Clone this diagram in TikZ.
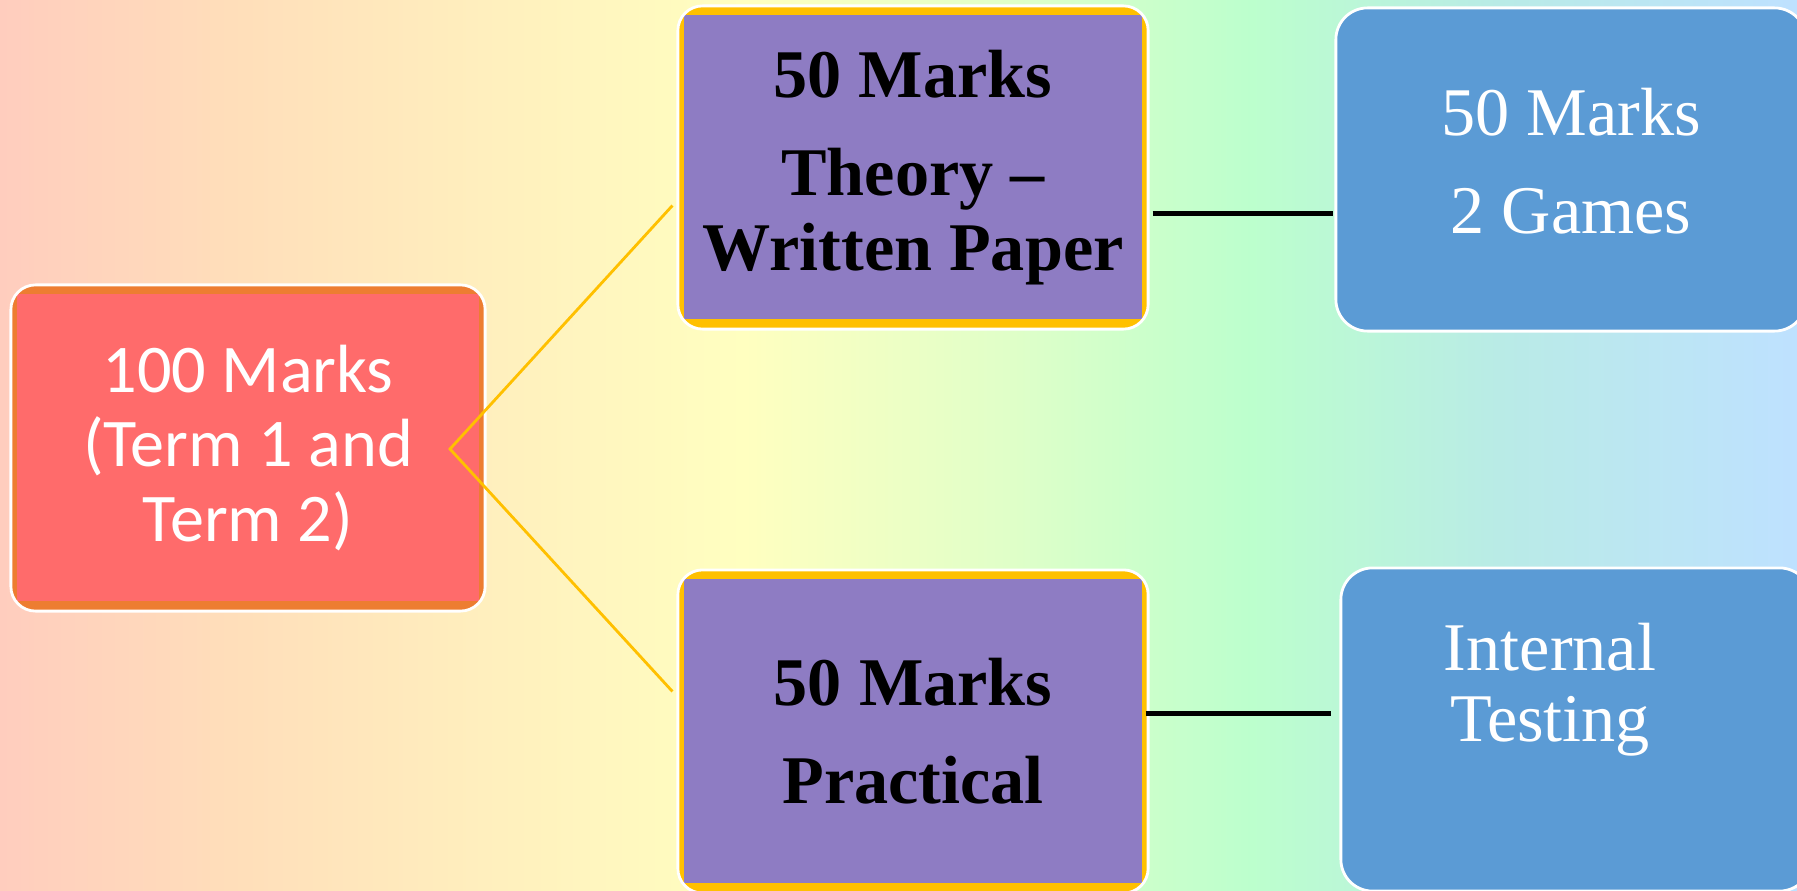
\documentclass[tikz,border=0pt]{standalone}
\usepackage{fontspec}
\setmainfont{Liberation Serif}
\newfontfamily\bodyfont{Carlito}
\usepackage{tikz}
\usetikzlibrary{calc}
\definecolor{BoxRed}{RGB}{255,107,107}
\definecolor{BoxOrange}{RGB}{237,125,49}
\definecolor{BoxPurple}{RGB}{142,124,195}
\definecolor{BoxGold}{RGB}{255,192,0}
\definecolor{BoxBlue}{RGB}{91,155,213}
\definecolor{BgPeach}{RGB}{255,205,190}
\definecolor{BgApricot}{RGB}{255,222,186}
\definecolor{BgCream}{RGB}{255,240,190}
\definecolor{BgLemon}{RGB}{255,255,192}
\definecolor{BgLime}{RGB}{225,255,200}
\definecolor{BgMint}{RGB}{188,255,205}
\definecolor{BgAqua}{RGB}{185,235,230}
\definecolor{BgSky}{RGB}{190,225,255}
\pgfdeclarehorizontalshading{pastel}{100bp}{color(0bp)=(BgPeach); color(25bp)=(BgPeach);
  color(31.4bp)=(BgApricot); color(38.9bp)=(BgCream); color(45.7bp)=(BgLemon);
  color(52.8bp)=(BgLime); color(59.8bp)=(BgMint); color(66.7bp)=(BgAqua);
  color(75bp)=(BgSky); color(100bp)=(BgSky)}
\newcommand\sansbig{\bodyfont\fontsize{19.4}{21.3}\selectfont}
\newcommand\serifbig{\fontsize{19.4}{21.3}\selectfont}

\begin{document}
\begin{tikzpicture}[x=0.01cm, y=-0.01cm,
    box/.style={draw=white, line width=0.8pt, rounded corners=7pt, inner sep=0pt,
                align=center, minimum width=4.7cm, minimum height=3.23cm},
    twotone/.style 2 args={box, fill=#1, path picture={
        \fill[#2, sharp corners] ($(path picture bounding box.north west)+(6,9)$) rectangle
                  ($(path picture bounding box.south east)+(-6,-10)$);}},
    redbox/.style={twotone={BoxOrange}{BoxRed}, text=white, font=\sansbig,
                   minimum width=4.74cm, minimum height=3.26cm},
    purplebox/.style={twotone={BoxGold}{BoxPurple}, font=\bfseries\serifbig},
    bluebox/.style={box, fill=BoxBlue, rounded corners=9pt},
    bluetext/.style={text=white, font=\serifbig, align=center, inner sep=0pt},
    fork/.style={draw=BoxGold, line width=0.8pt},
    link/.style={draw=black, line width=1.3pt}
  ]
  \useasboundingbox (0,0) rectangle (1797,891);
  \shade[shading=pastel] (0,0) rectangle (1797,891);

  \node[redbox]    (total)     at (248,448)   {100 Marks\\(Term 1 and\\Term 2)};
  \node[purplebox] (theory)    at (913,167.5) {50 Marks\\[6.6pt]Theory –\\Written Paper};
  \node[purplebox] (practical) at (913,731.5) {50 Marks\\[6.6pt]Practical};
  \node[bluebox]   (games)     at (1571,169.5) {};
  \node[bluebox]   (testing)   at (1576,729.5) {};
  \node[bluetext]  (gamestext) at (1571,161) {50 Marks\\[6.6pt]2 Games};
  \node[bluetext, font=\fontsize{19.4}{20.2}\selectfont] (testtext) at (1550,690)
        {Internal\\Testing};

  % connectors
  \coordinate (split) at (450,449);
  \draw[fork] ($(theory.west)+(-4,38)$) -- (split) -- ($(practical.west)+(-4,-40)$);
  \draw[link] ($(theory.east)+(3,46)$) -- ($(theory.east -| games.west)+(-1,46)$);
  \draw[link] ($(practical.east)+(-4,-18)$) -- ($(practical.east -| testing.west)+(-8,-18)$);
\end{tikzpicture}
\end{document}
